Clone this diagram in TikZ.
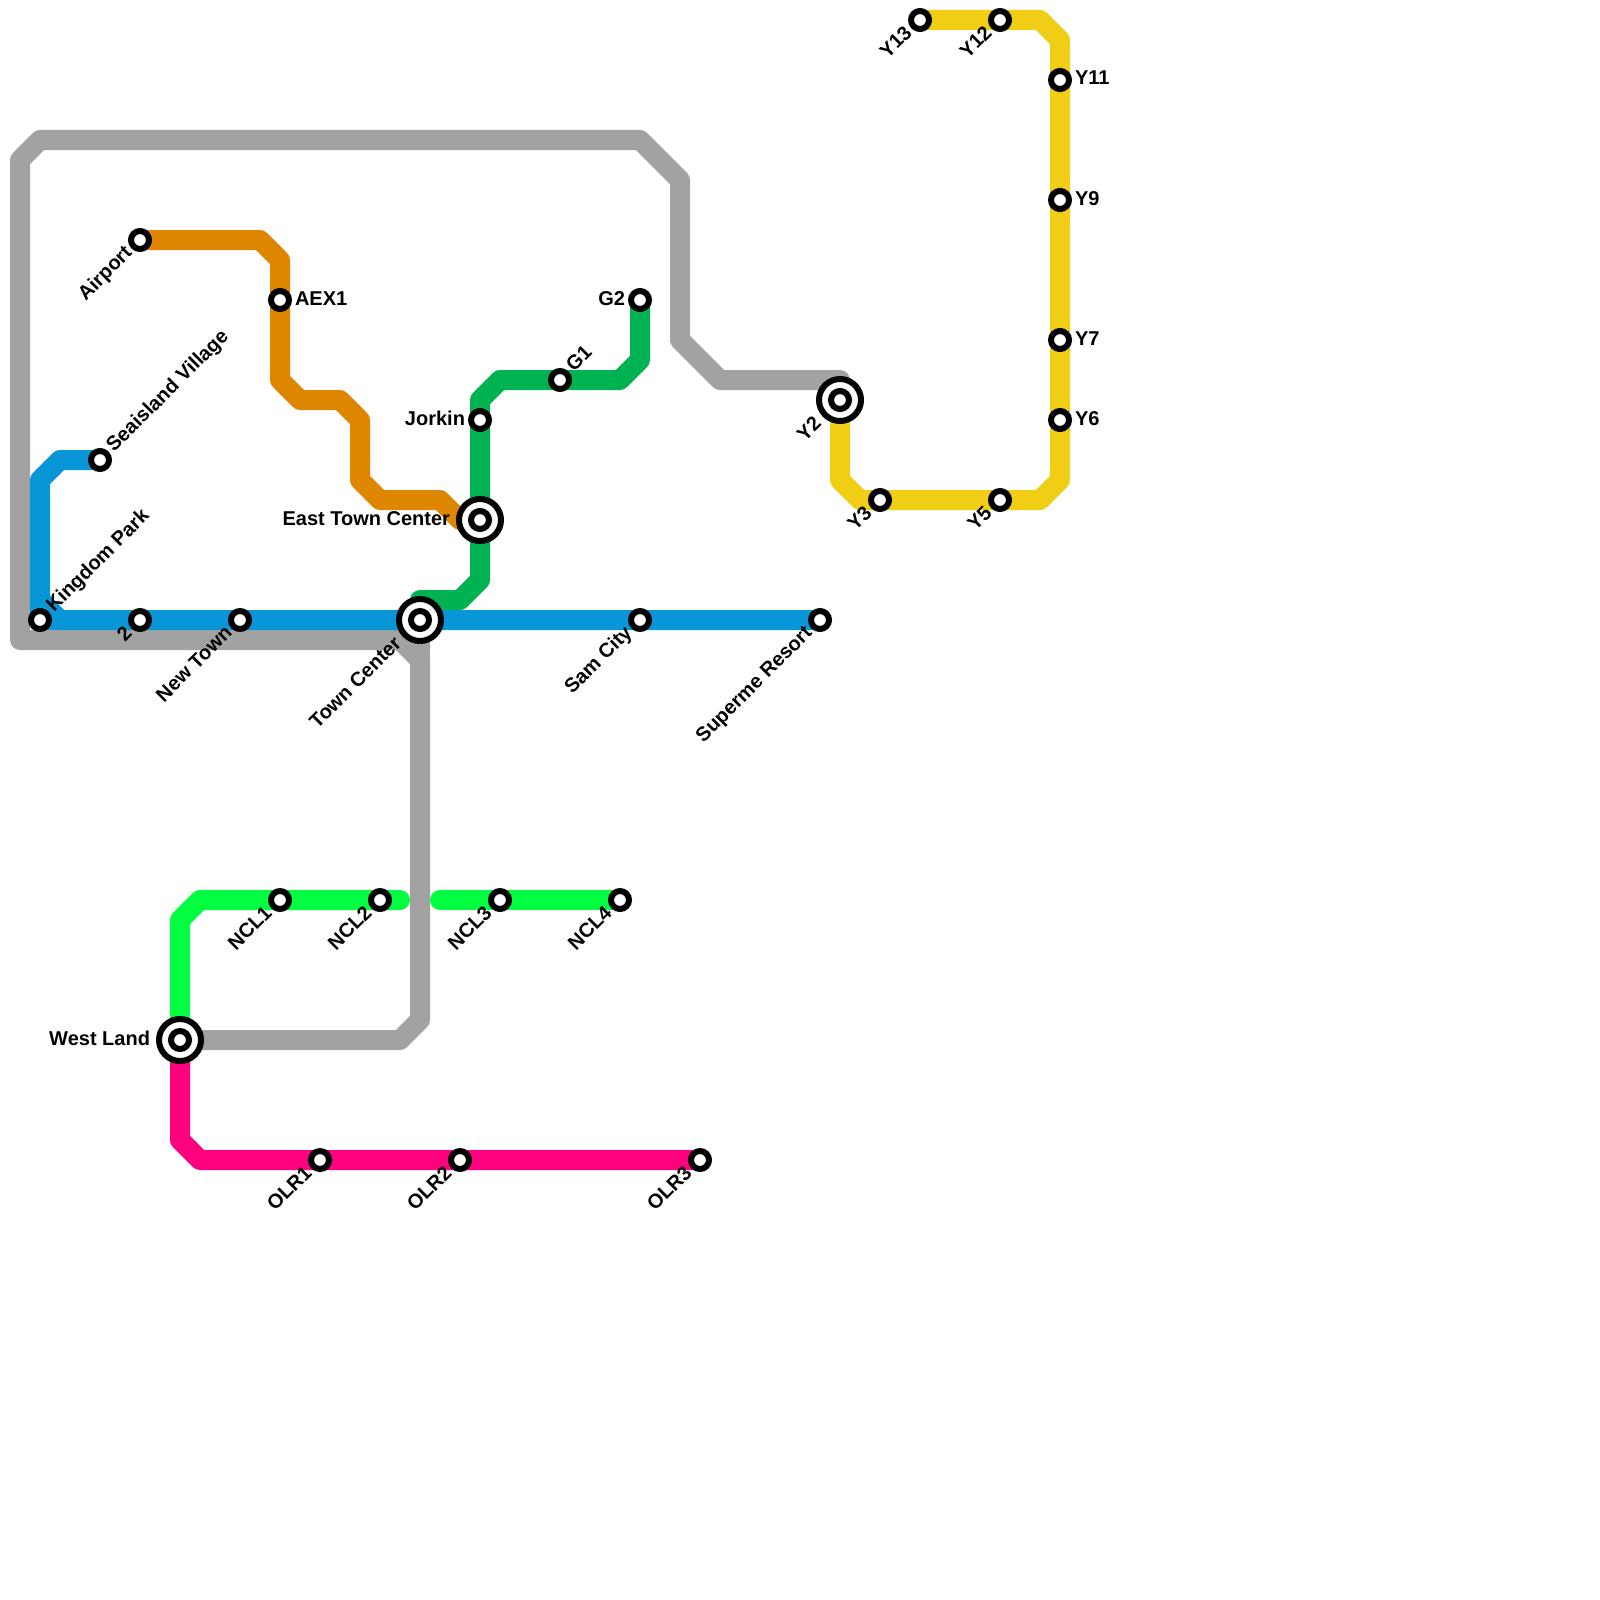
\documentclass[tikz,border=0pt]{standalone}
\usepackage{fontspec}
\usetikzlibrary{calc}
\setmainfont{Liberation Sans}
\definecolor{cgray}{HTML}{A2A2A2}
\definecolor{corange}{HTML}{DF8600}
\definecolor{cdgreen}{HTML}{00B251}
\definecolor{cblue}{HTML}{0896D7}
\definecolor{cbright}{HTML}{00FF40}
\definecolor{cpink}{HTML}{FF007F}
\definecolor{cyellow}{HTML}{F0CE15}
\tikzset{
  metro/.style={line width=20pt,line join=round,line cap=butt},
  stn/.style={circle,draw=black,fill=white,line width=6pt,minimum size=18pt,inner sep=0pt,outer sep=0pt},
  hubo/.style={circle,draw=black,fill=white,line width=6pt,minimum size=42pt,inner sep=0pt,outer sep=0pt},
  lbl/.style={font=\bfseries\fontsize{20}{20}\selectfont,text=black,inner sep=0pt,outer sep=0pt},
  lblUR/.style={lbl,rotate=45,anchor=base west},
  lblDL/.style={lbl,rotate=45,anchor=base east},
  lblR/.style={lbl,anchor=base west},
  lblL/.style={lbl,anchor=base east}
}
\begin{document}
\begin{tikzpicture}[x=1pt,y=-1pt]
\useasboundingbox (0,0) rectangle (1600,1600);
% station positions
\coordinate (kp) at (40,620);
\coordinate (two) at (140,620);
\coordinate (nt) at (240,620);
\coordinate (tc) at (420,620);
\coordinate (sc) at (640,620);
\coordinate (sr) at (820,620);
\coordinate (ss) at (100,460);
\coordinate (ap) at (140,240);
\coordinate (aex) at (280,300);
\coordinate (etc) at (480,520);
\coordinate (jk) at (480,420);
\coordinate (gone) at (560,380);
\coordinate (gtwo) at (640,300);
\coordinate (yt) at (840,400);
\coordinate (yth) at (880,500);
\coordinate (yf) at (1000,500);
\coordinate (ysix) at (1060,420);
\coordinate (ysv) at (1060,340);
\coordinate (yn) at (1060,200);
\coordinate (yel) at (1060,80);
\coordinate (ytw) at (1000,20);
\coordinate (ythi) at (920,20);
\coordinate (wl) at (180,1040);
\coordinate (nclo) at (280,900);
\coordinate (nclt) at (380,900);
\coordinate (ncle) at (500,900);
\coordinate (nclf) at (620,900);
\coordinate (olro) at (320,1160);
\coordinate (olrt) at (460,1160);
\coordinate (olre) at (700,1160);
\coordinate (gapl) at (400,900);
\coordinate (gapr) at (440,900);
% lines
\draw[metro,cgray] (wl) -- (400,1040) -- (420,1020) -- (420,660) -- (400,640) -- (20,640) -- (20,160) -- (40,140) -- (640,140) -- (680,180) -- (680,340) -- (720,380) -- (840,380) -- (yt);
\draw[metro,cgray] (tc) -- (420,660);
\draw[metro,corange] (ap) -- (260,240) -- (280,260) -- (aex) -- (280,380) -- (300,400) -- (340,400) -- (360,420) -- (360,480) -- (380,500) -- (440,500) -- (460,520) -- (etc);
\draw[metro,cdgreen] (gtwo) -- (640,360) -- (620,380) -- (gone) -- (500,380) -- (480,400) -- (jk) -- (etc) -- (480,580) -- (460,600) -- (420,600) -- (tc);
\draw[metro,cblue] (ss) -- (60,460) -- (40,480) -- (40,600) -- (60,620) -- (two) -- (nt) -- (tc) -- (sc) -- (sr);
\draw[metro,cblue] (40,600) -- (kp) -- (60,620);
\draw[metro,cbright,line cap=round] (wl) -- (180,920) -- (200,900) -- (nclo) -- (nclt) -- (gapl);
\draw[metro,cbright,line cap=round] (gapr) -- (ncle) -- (nclf);
\draw[metro,cpink] (wl) -- (180,1140) -- (200,1160) -- (olro) -- (olrt) -- (olre);
\draw[metro,cyellow] (yt) -- (840,480) -- (860,500) -- (yth) -- (yf) -- (1040,500) -- (1060,480) -- (ysix) -- (ysv) -- (yn) -- (yel) -- (1060,40) -- (1040,20) -- (ytw) -- (ythi);
% interchange outer rings
\node[hubo] (tcO) at (tc) {};
\node[hubo] (etcO) at (etc) {};
\node[hubo] (ytO) at (yt) {};
\node[hubo] (wlO) at (wl) {};
% stations
\foreach \c in {kp,two,nt,tc,sc,sr,ss,ap,aex,etc,jk,gone,gtwo,yt,yth,yf,ysix,ysv,yn,yel,ytw,ythi,wl,nclo,nclt,ncle,nclf,olro,olrt,olre}
  \node[stn] (s\c) at (\c) {};
% labels
\node[lblUR] (lkp) at ($(kp)+(14.14,-7.07)$) {Kingdom Park};
\node[lblDL] (ltwo) at ($(two)+(-7.07,14.14)$) {2};
\node[lblDL] (lnt) at ($(nt)+(-7.07,14.14)$) {New Town};
\node[lblDL] (ltc) at ($(tc)+(-17.7,24.7)$) {Town Center};
\node[lblDL] (lsc) at ($(sc)+(-7.07,14.14)$) {Sam City};
\node[lblDL] (lsr) at ($(sr)+(-7.07,14.14)$) {Superme Resort};
\node[lblUR] (lss) at ($(ss)+(14.14,-7.07)$) {Seaisland Village};
\node[lblDL] (lap) at ($(ap)+(-7.07,14.14)$) {Airport};
\node[lblR] (laex) at ($(aex)+(15,5)$) {AEX1};
\node[lblL] (letc) at ($(etc)+(-30,5)$) {East Town Center};
\node[lblL] (ljk) at ($(jk)+(-15,5)$) {Jorkin};
\node[lblUR] (lgone) at ($(gone)+(14.14,-7.07)$) {G1};
\node[lblL] (lgtwo) at ($(gtwo)+(-15,5)$) {G2};
\node[lblDL] (lyt) at ($(yt)+(-17.7,24.7)$) {Y2};
\node[lblDL] (lyth) at ($(yth)+(-7.07,14.14)$) {Y3};
\node[lblDL] (lyf) at ($(yf)+(-7.07,14.14)$) {Y5};
\node[lblR] (lysix) at ($(ysix)+(15,5)$) {Y6};
\node[lblR] (lysv) at ($(ysv)+(15,5)$) {Y7};
\node[lblR] (lyn) at ($(yn)+(15,5)$) {Y9};
\node[lblR] (lyel) at ($(yel)+(15,5)$) {Y11};
\node[lblDL] (lytw) at ($(ytw)+(-7.07,14.14)$) {Y12};
\node[lblDL] (lythi) at ($(ythi)+(-7.07,14.14)$) {Y13};
\node[lblL] (lwl) at ($(wl)+(-30,5)$) {West Land};
\node[lblDL] (lnclo) at ($(nclo)+(-7.07,14.14)$) {NCL1};
\node[lblDL] (lnclt) at ($(nclt)+(-7.07,14.14)$) {NCL2};
\node[lblDL] (lncle) at ($(ncle)+(-7.07,14.14)$) {NCL3};
\node[lblDL] (lnclf) at ($(nclf)+(-7.07,14.14)$) {NCL4};
\node[lblDL] (lolro) at ($(olro)+(-7.07,14.14)$) {OLR1};
\node[lblDL] (lolrt) at ($(olrt)+(-7.07,14.14)$) {OLR2};
\node[lblDL] (lolre) at ($(olre)+(-7.07,14.14)$) {OLR3};
\end{tikzpicture}
\end{document}
